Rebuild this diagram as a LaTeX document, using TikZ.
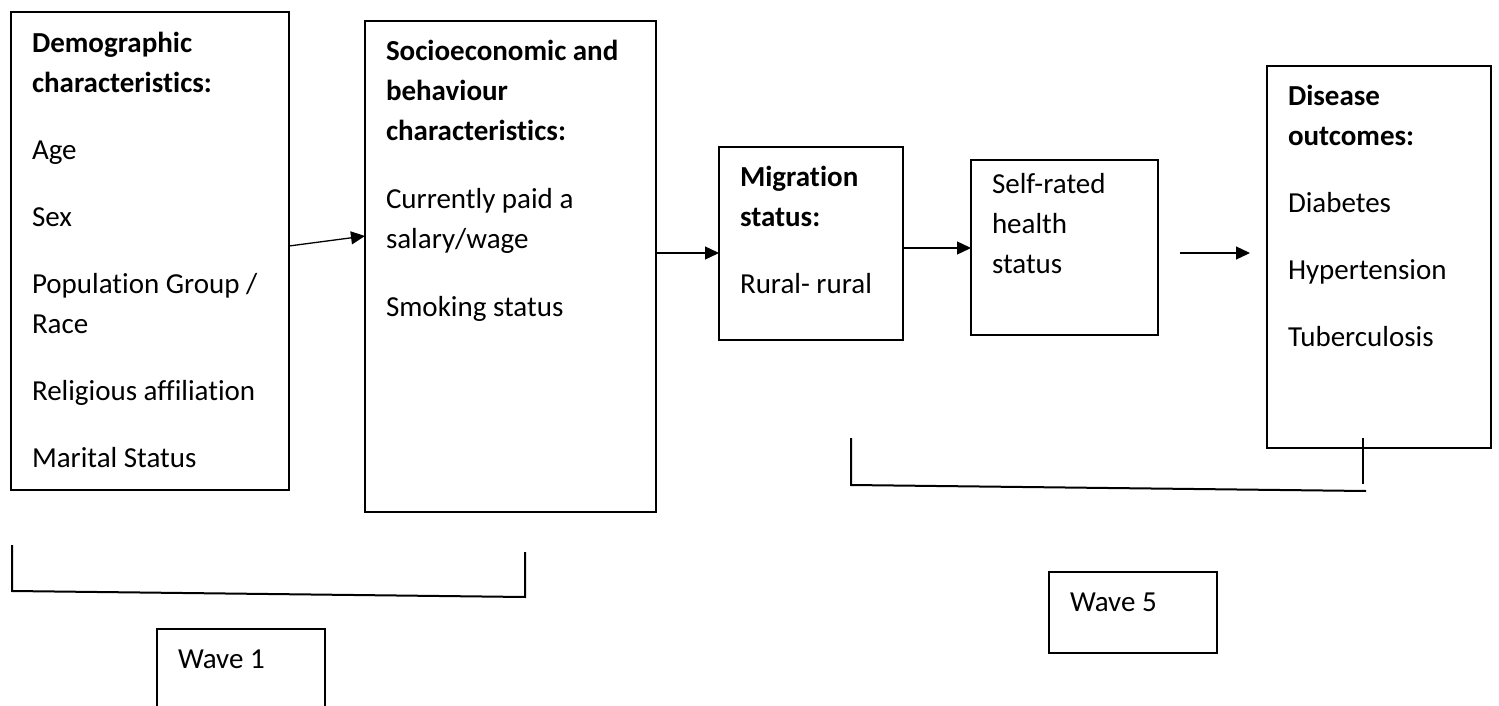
\documentclass[tikz,border=0pt]{standalone}
\usepackage{fontspec}
\setmainfont{Carlito}[Ligatures=NoCommon]
\usetikzlibrary{arrows.meta}

% text block of a box: width, height, space above first line, lines
\newcommand{\kastentext}[4]{\parbox[c][#2][t]{#1}{\fontsize{29}{40}\selectfont\raggedright\vspace*{#3}\strut #4}}

\begin{document}
\begin{tikzpicture}[x=1pt, y=-1pt, kasten/.style = {draw, line width=1.3pt, anchor=north west, inner xsep=21pt, inner ysep=0pt, outer sep=0pt}, pfeil/.style = {-{Triangle[length=14pt,width=13pt]}, line width=1.3pt}]
                \tikzstyle{klammer} = [line width=2pt]
                \useasboundingbox (0,0) rectangle (1499,706);

                    \node[kasten] (demo) at (11,12) {\kastentext{236pt}{478pt}{12pt}{\textbf{Demographic}\\\textbf{characteristics:}\\[27pt]Age\\[27pt]Sex\\[27pt]Population Group /\\Race\\[27pt]Religious affiliation\\[27pt]Marital Status}};
                    \node[kasten] (socio) at (365,21) {\kastentext{249pt}{491pt}{11pt}{\textbf{Socioeconomic and}\\\textbf{behaviour}\\\textbf{characteristics:}\\[28pt]Currently paid a\\salary/wage\\[28pt]Smoking status}};
                    \node[kasten] (migr) at (719,147) {\kastentext{142pt}{193pt}{11pt}{\textbf{Migration}\\\textbf{status:}\\[27pt]Rural- rural}};
                    \node[kasten] (health) at (971,160) {\kastentext{145pt}{175pt}{5pt}{Self-rated\\health\\status}};
                    \node[kasten] (dis) at (1267,66) {\kastentext{182pt}{382pt}{11pt}{\textbf{Disease}\\\textbf{outcomes:}\\[27pt]Diabetes\\[27pt]Hypertension\\[27pt]Tuberculosis}};
                    \node[kasten] (waveA) at (157,629) {\kastentext{126pt}{95pt}{11pt}{Wave 1}};
                    \node[kasten] (waveE) at (1049,572) {\kastentext{126pt}{81pt}{11pt}{Wave 5}};

                    \coordinate (k1a) at (12,545);
                    \coordinate (k1b) at (12,591);
                    \coordinate (k1c) at (525,597);
                    \coordinate (k1d) at (525,552);
                    \coordinate (k2a) at (851,438);
                    \coordinate (k2b) at (851,485);
                    \coordinate (k2c) at (1366,491);
                    \coordinate (k2d) at (1363,438);
                    \coordinate (k2e) at (1363,484);

                    \draw[pfeil] ([yshift=5pt]demo.east) to ([yshift=30.5pt]socio.west);
                    \draw[pfeil] ([yshift=13.5pt]socio.east) to ([yshift=13.5pt]socio.east -| migr.west);
                    \draw[pfeil] ([yshift=-4.5pt]migr.east) to ([yshift=-4.5pt]migr.east -| health.west);
                    \draw[pfeil] ([xshift=22pt,yshift=-5.5pt]health.east) to ([xshift=-17pt,yshift=-5.5pt]health.east -| dis.west);

                    \draw[klammer] (k1a) -- (k1b) -- (k1c) -- (k1d);
                    \draw[klammer] (k2a) -- (k2b) -- (k2c);
                    \draw[klammer] (k2d) -- (k2e);

                \end{tikzpicture}
\end{document}
